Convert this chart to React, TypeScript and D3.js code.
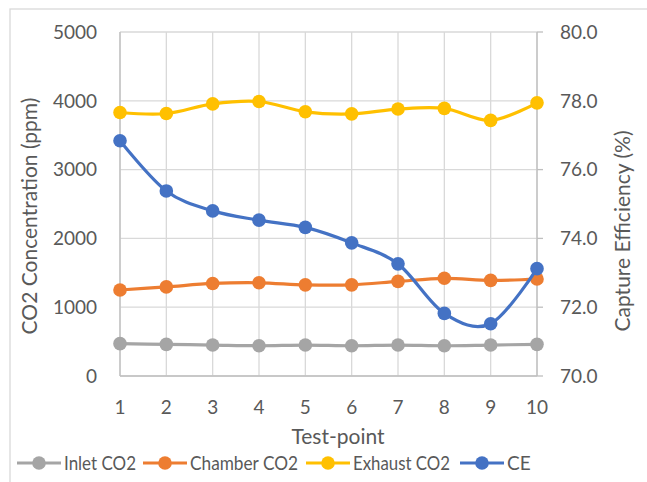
import React from "react";
import * as d3 from "d3";

const testPoints = [1, 2, 3, 4, 5, 6, 7, 8, 9, 10];
const inletCO2 = [470, 460, 450, 440, 450, 440, 450, 440, 450, 460];
const chamberCO2 = [1250, 1295, 1345, 1355, 1325, 1325, 1375, 1420, 1390, 1410];
const exhaustCO2 = [3830, 3815, 3955, 3990, 3840, 3810, 3880, 3890, 3715, 3970];
const captureEff = [76.84, 75.38, 74.8, 74.53, 74.32, 73.87, 73.26, 71.82, 71.52, 73.12];
const leftTicks = [0, 1000, 2000, 3000, 4000, 5000];
const rightTicks = [70, 72, 74, 76, 78, 80];

const FONT = "Lato, 'Open Sans', sans-serif";
const TEXT = "#595959";

export default function App() {
  const W = 647, H = 482;
  const left = 120, right = 537, top = 32, bottom = 376;
  const x = d3.scalePoint<number>().domain(testPoints).range([left, right]);
  const yL = d3.scaleLinear().domain([0, 5000]).range([bottom, top]);
  const yR = d3.scaleLinear().domain([70, 80]).range([bottom, top]);
  const curve = d3.curveCardinal.tension(0);

  const series = [
    { name: "Inlet CO2", color: "#a5a5a5", values: inletCO2, y: yL },
    { name: "Chamber CO2", color: "#ed7d31", values: chamberCO2, y: yL },
    { name: "Exhaust CO2", color: "#ffc000", values: exhaustCO2, y: yL },
    { name: "CE", color: "#4472c4", values: captureEff, y: yR },
  ];

  const legendX = [17, 143, 306, 460];
  const legendLen = [72, 108, 97, 0];

  return (
    <svg width={W} height={H} style={{ position: "absolute", left: 0, top: 0 }}>
      <rect x={0} y={0} width={W} height={H} fill="#fff" />
      <rect x={10} y={9} width={700} height={520} fill="#fff" stroke="#d9d9d9" strokeWidth={1.3} />
      {leftTicks.map((t) => (
        <line key={"h" + t} x1={left} x2={right} y1={yL(t)} y2={yL(t)} stroke="#d9d9d9" strokeWidth={1.3} />
      ))}
      {testPoints.map((p) => (
        <line key={"v" + p} x1={x(p)} x2={x(p)} y1={top} y2={bottom} stroke="#d9d9d9" strokeWidth={1.3} />
      ))}
      <line x1={left} x2={left} y1={top} y2={bottom} stroke="#bfbfbf" strokeWidth={1.3} />
      <line x1={right} x2={right} y1={top} y2={bottom} stroke="#bfbfbf" strokeWidth={1.3} />
      <line x1={left} x2={right} y1={bottom} y2={bottom} stroke="#bfbfbf" strokeWidth={1.3} />
      {rightTicks.map((t) => (
        <line key={"rt" + t} x1={right} x2={right + 6} y1={yR(t)} y2={yR(t)} stroke="#bfbfbf" strokeWidth={1.3} />
      ))}
      {leftTicks.map((t) => (
        <text key={"lt" + t} x={97} y={yL(t)} dy="0.36em" textAnchor="end" fontFamily={FONT} fontSize={19} fill={TEXT}>
          {t}
        </text>
      ))}
      {rightTicks.map((t) => (
        <text key={"rl" + t} x={560} y={yR(t)} dy="0.36em" textAnchor="start" fontFamily={FONT} fontSize={19} fill={TEXT}>
          {t.toFixed(1)}
        </text>
      ))}
      {testPoints.map((p) => (
        <text key={"xl" + p} x={x(p)} y={414} textAnchor="middle" fontFamily={FONT} fontSize={19} fill={TEXT}>
          {p}
        </text>
      ))}
      <text x={338} y={444} textAnchor="middle" fontFamily={FONT} fontSize={21} fill={TEXT}>
        Test-point
      </text>
      <text transform="translate(37,216) rotate(-90)" textAnchor="middle" fontFamily={FONT} fontSize={21} fill={TEXT}>
        CO2 Concentration (ppm)
      </text>
      <text transform="translate(630,231) rotate(-90)" textAnchor="middle" fontFamily={FONT} fontSize={21} fill={TEXT}>
        Capture Efficiency (%)
      </text>
      {series.map((s) => {
        const line = d3
          .line<number>()
          .x((_, i) => x(testPoints[i]) as number)
          .y((v) => s.y(v))
          .curve(curve);
        return (
          <g key={s.name}>
            <path d={line(s.values) || ""} fill="none" stroke={s.color} strokeWidth={3.2} strokeLinecap="round" />
            {s.values.map((v, i) => (
              <circle key={i} cx={x(testPoints[i])} cy={s.y(v)} r={6.8} fill={s.color} />
            ))}
          </g>
        );
      })}
      {series.map((s, i) => (
        <g key={"lg" + s.name} transform={`translate(${legendX[i]},463)`}>
          <line x1={0} x2={44} y1={0} y2={0} stroke={s.color} strokeWidth={3.2} />
          <circle cx={22} cy={0} r={6.8} fill={s.color} />
          <text
            x={47}
            y={0}
            dy="0.36em"
            fontFamily={FONT}
            fontSize={19}
            fill={TEXT}
            {...(legendLen[i] ? { textLength: legendLen[i], lengthAdjust: "spacingAndGlyphs" } : {})}
          >
            {s.name}
          </text>
        </g>
      ))}
    </svg>
  );
}
